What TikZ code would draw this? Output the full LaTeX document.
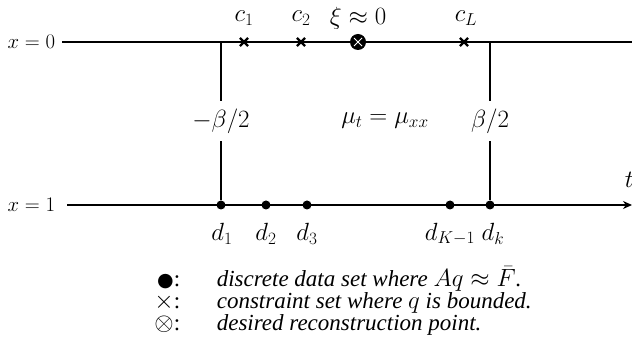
\documentclass[tikz,border=0pt]{standalone}
\usepackage{amsmath}
\usepackage{fontspec}
\setmainfont{Liberation Serif}
\newfontfamily\symfont{DejaVu Sans}
\usetikzlibrary{arrows.meta,shapes.misc}

\tikzset{
  datadot/.style={circle, fill=black, inner sep=0pt, minimum size=9pt},
  crossmark/.style={cross out, draw=black, line width=2.2pt, inner sep=0pt, minimum size=6pt},
  targetpt/.style={circle, fill=black, inner sep=0pt, minimum size=16pt},
  gaplabel/.style={inner sep=7pt},
  legendtxt/.style={anchor=west, inner sep=0pt, text height=13pt, text depth=4pt},
}

\begin{document}
\begin{tikzpicture}[x=1pt,y=-1pt,>={Stealth[length=9pt,width=8pt]},line width=1.6pt,
  font=\fontsize{23}{26}\selectfont, inner sep=1pt]
\useasboundingbox (0,0) rectangle (632,347);
% Boundary lines
\node[left, inner sep=0pt, font=\fontsize{20}{24}\selectfont] (xzero) at (56,42) {$x=0$};
\node[left, inner sep=0pt, font=\fontsize{20}{24}\selectfont] (xone) at (56,205) {$x=1$};
\coordinate (topend) at (632,42);
\coordinate (botend) at (632,205);
\draw (xzero.east) ++(6,0) coordinate (topstart) -- (topend);
\draw[->] (xone.east) ++(11,0) coordinate (botstart) -- (botend);
\node[anchor=west, inner sep=0pt] (tlab) at (624,180) {$t$};

% Boundary fluxes
\coordinate (tL) at (221,42);
\coordinate (tR) at (490,42);
\node[gaplabel] (mbeta) at (221,121) {$-\beta/2$};
\node[gaplabel] (pbeta) at (490,121) {$\beta/2$};
\node (heat) at (385,121) {$\mu_t=\mu_{xx}$};

% Data set on x = 1
\node[datadot] (d1) at (221,205) {};
\node[datadot] (d2) at (266,205) {};
\node[datadot] (d3) at (307,205) {};
\node[datadot] (dK1) at (450,205) {};
\node[datadot] (dK) at (490,205) {};
\draw (tL) -- (mbeta) -- (d1);
\draw (tR) -- (pbeta) -- (dK);
\node (ld1) at (222,234) {$d_1$};
\node (ld2) at (266,234) {$d_2$};
\node (ld3) at (307,234) {$d_3$};
\node (ldK1) at (450,234) {$d_{K-1}$};
\node (ldK) at (493,234) {$d_k$};

% Constraint set on x = 0
\node[crossmark] (c1) at (244,42) {};
\node[crossmark] (c2) at (301,42) {};
\node[crossmark] (cL) at (464,42) {};
\node (lc1) at (244,18) {$c_1$};
\node (lc2) at (301,18) {$c_2$};
\node (lcL) at (466,18) {$c_L$};

% Reconstruction point
\node[targetpt] (xi) at (358,42) {};
\draw[white, line width=0.9pt] (xi.center) ++(-4,-4) -- ++(8,8)
  (xi.center) ++(-4,4) -- ++(8,-8);
\node[inner sep=0pt] (lxi) at (358,18) {$\xi\approx0$};

% Legend
\node[legendtxt, anchor=east] (sym1) at (181,282) {{\symfont\fontsize{19}{20}\selectfont ●}:};
\node[legendtxt, anchor=east] (sym2) at (181,304) {$\times$:};
\node[legendtxt, anchor=east] (sym3) at (181,326) {$\otimes$:};
\node[legendtxt] (txt1) at (216,282) {\textit{discrete data set where $Aq\approx\bar F$.}};
\node[legendtxt] (txt2) at (216,304) {\textit{constraint set where $q$ is bounded.}};
\node[legendtxt] (txt3) at (216,326) {\textit{desired reconstruction point.}};
\end{tikzpicture}
\end{document}
